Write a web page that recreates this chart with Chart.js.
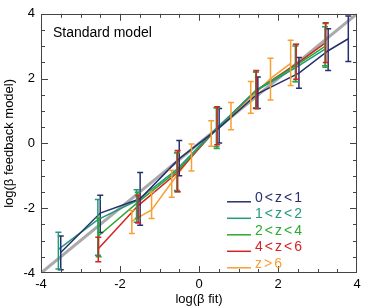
<!DOCTYPE html>
<html>
<head>
<meta charset="utf-8">
<script src="https://cdn.jsdelivr.net/npm/chart.js@4.4.1/dist/chart.umd.min.js"></script>
<style>
html,body{margin:0;padding:0;background:#fff;}
#wrap{width:374px;height:307px;position:relative;}
</style>
</head>
<body>
<div id="wrap"><canvas id="c" width="374" height="307"></canvas></div>
<script>
// ---- data ----
const seriesLabels = ['0<z<1', '1<z<2', '2<z<4', '4<z<6', 'z>6'];

const x0 = [-3.50, -2.50, -1.49, -0.50, 0.51, 1.49, 2.53, 3.27, 3.78];
const y0 = [-3.37, -2.15, -1.71, -0.47, 0.48, 1.54, 2.17, 2.86, 3.23];
const lo0 = [-3.90, -2.75, -2.53, -1.00, 0.01, 1.08, 1.70, 2.25, 2.53];
const hi0 = [-2.86, -1.60, -0.90, 0.09, 1.08, 2.05, 2.65, 3.54, 3.93];

const x1 = [-3.56, -2.56, -1.58, -0.56, 0.44, 1.44, 2.44, 3.19];
const y1 = [-3.27, -2.35, -1.77, -0.80, 0.46, 1.62, 2.33, 2.91];
const lo1 = [-3.88, -3.45, -2.43, -1.45, -0.10, 1.10, 1.91, 2.40];
const hi1 = [-2.74, -1.73, -1.43, -0.30, 1.10, 2.20, 3.01, 3.60];

const x2 = [-2.54, -1.55, -0.55, 0.45, 1.44, 2.45, 3.20];
const y2 = [-2.85, -1.82, -0.85, 0.46, 1.64, 2.40, 3.00];
const lo2 = [-3.50, -2.31, -1.49, -0.16, 1.08, 1.90, 2.35];
const hi2 = [-2.30, -1.51, -0.27, 1.10, 2.20, 3.05, 3.70];

const x3 = [-2.55, -1.54, -0.54, 0.46, 1.45, 2.46, 3.21];
const y3 = [-3.25, -1.92, -0.90, 0.47, 1.64, 2.45, 3.11];
const lo3 = [-3.65, -2.46, -1.49, -0.04, 1.08, 1.98, 2.50];
const hi3 = [-2.90, -1.61, -0.22, 1.13, 2.25, 3.06, 3.72];

const x4 = [-1.70, -1.20, -0.69, -0.19, 0.31, 0.81, 1.31, 1.81, 2.32];
const y4 = [-2.40, -2.05, -1.20, -0.40, 0.30, 0.85, 1.40, 2.00, 2.47];
const lo4 = [-2.78, -2.32, -1.66, -0.85, -0.09, 0.42, 0.93, 1.34, 1.79];
const hi4 = [-2.07, -1.50, -0.83, -0.02, 0.70, 1.26, 1.91, 2.63, 3.18];

const oneToOne = [-4, 4];
const axisTicks = [-4, -2, 0, 2, 4];

const colors = ['#27306f', '#22997c', '#2ca832', '#d62222', '#f6a032'];
const allX = [x0, x1, x2, x3, x4];
const allY = [y0, y1, y2, y3, y4];
const allLo = [lo0, lo1, lo2, lo3, lo4];
const allHi = [hi0, hi1, hi2, hi3, hi4];

const FONT = '"Liberation Sans", Arial, Helvetica, sans-serif';

const datasets = seriesLabels.map((lab, i) => ({
  label: lab,
  data: allX[i].map((x, j) => ({x: x, y: allY[i][j]})),
  borderColor: colors[i],
  backgroundColor: colors[i],
  borderWidth: 1.5,
  pointRadius: 0,
  tension: 0,
  errLo: allLo[i],
  errHi: allHi[i]
}));
datasets.push({
  label: '1:1',
  data: oneToOne.map(v => ({x: v, y: v})),
  borderColor: '#aaaaaa',
  borderWidth: 3,
  pointRadius: 0
});

const errorBars = {
  id: 'errorBars',
  afterDatasetsDraw(chart) {
    const ctx = chart.ctx, xs = chart.scales.x, ys = chart.scales.y;
    ctx.save();
    ctx.lineWidth = 1.5;
    chart.data.datasets.forEach(ds => {
      if (!ds.errLo) return;
      ctx.strokeStyle = ds.borderColor;
      ds.data.forEach((p, j) => {
        const px = xs.getPixelForValue(p.x);
        const pl = ys.getPixelForValue(ds.errLo[j]);
        const ph = ys.getPixelForValue(ds.errHi[j]);
        ctx.beginPath();
        ctx.moveTo(px, pl); ctx.lineTo(px, ph);
        ctx.moveTo(px - 3, pl); ctx.lineTo(px + 3, pl);
        ctx.moveTo(px - 3, ph); ctx.lineTo(px + 3, ph);
        ctx.stroke();
      });
    });
    ctx.restore();
  }
};

const frameTicks = {
  id: 'frameTicks',
  afterDraw(chart) {
    const ctx = chart.ctx, a = chart.chartArea, xs = chart.scales.x, ys = chart.scales.y;
    ctx.save();
    ctx.strokeStyle = '#444';
    ctx.lineWidth = 1;
    ctx.strokeRect(Math.round(a.left) + 0.5, Math.round(a.top) + 0.5,
                   Math.round(a.right - a.left) - 1, Math.round(a.bottom - a.top) - 1);
    ctx.beginPath();
    for (let v = -3.5; v <= 3.51; v += 0.5) {
      const major = Math.abs(v % 2) < 1e-6;
      const len = major ? 7 : 4;
      const px = Math.round(xs.getPixelForValue(v)) + 0.5;
      ctx.moveTo(px, a.bottom); ctx.lineTo(px, a.bottom - len);
      ctx.moveTo(px, a.top); ctx.lineTo(px, a.top + len);
      const py = Math.round(ys.getPixelForValue(v)) + 0.5;
      ctx.moveTo(a.left, py); ctx.lineTo(a.left + len, py);
      ctx.moveTo(a.right, py); ctx.lineTo(a.right - len, py);
    }
    ctx.stroke();

    // annotation
    ctx.fillStyle = '#000';
    ctx.font = '14px ' + FONT;
    ctx.textAlign = 'left';
    ctx.textBaseline = 'alphabetic';
    ctx.fillText('Standard model', a.left + 12, a.top + 23);

    // legend
    const lx = a.left + 186, ly = a.top + 188, step = 16.5;
    ctx.lineWidth = 1.5;
    seriesLabels.forEach((lab, i) => {
      const y = ly + i * step;
      ctx.strokeStyle = colors[i];
      ctx.beginPath();
      ctx.moveTo(lx, y); ctx.lineTo(lx + 24, y);
      ctx.stroke();
      ctx.fillStyle = colors[i];
      ctx.font = '14px ' + FONT;
      if ('letterSpacing' in ctx) ctx.letterSpacing = '2px';
      ctx.fillText(lab, lx + 28, y);
      if ('letterSpacing' in ctx) ctx.letterSpacing = '0px';
    });
    ctx.restore();
  }
};

new Chart(document.getElementById('c'), {
  type: 'line',
  data: { datasets: datasets },
  options: {
    responsive: false,
    animation: false,
    devicePixelRatio: 1,
    layout: { padding: { left: 0, right: 17, top: 11, bottom: 0 } },
    plugins: { legend: { display: false }, tooltip: { enabled: false } },
    scales: {
      x: {
        type: 'linear', min: -4, max: 4,
        afterFit(s) { s.height = 34; },
        afterBuildTicks(s) { s.ticks = axisTicks.map(v => ({value: v})); },
        grid: { display: false, drawTicks: false },
        border: { display: false },
        ticks: { color: '#000', font: { family: FONT, size: 13 }, padding: 4, maxRotation: 0, autoSkip: false },
        title: { display: true, text: 'log(β fit)', color: '#000', font: { family: FONT, size: 13 }, padding: { top: 0, bottom: 0 } }
      },
      y: {
        type: 'linear', min: -4, max: 4,
        afterFit(s) { s.width = 41; },
        afterBuildTicks(s) { s.ticks = axisTicks.map(v => ({value: v})); },
        grid: { display: false, drawTicks: false },
        border: { display: false },
        ticks: { color: '#000', font: { family: FONT, size: 13 }, padding: 6, autoSkip: false },
        title: { display: true, text: 'log(β feedback model)', color: '#000', font: { family: FONT, size: 13 }, padding: { top: 2, bottom: 0 } }
      }
    }
  },
  plugins: [errorBars, frameTicks]
});
</script>
</body>
</html>
